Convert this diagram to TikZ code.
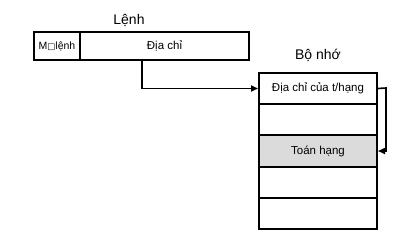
\documentclass[tikz,border=0pt]{standalone}
\usepackage{fontspec}
\setmainfont{Liberation Sans}
\newfontfamily\symfont{DejaVu Sans}
\usetikzlibrary{arrows.meta}
\begin{document}
\begin{tikzpicture}[x=1pt,y=-1pt,
  cell/.style={draw,line width=2pt,inner sep=0pt,anchor=north west},
  lbl/.style={font=\fontsize{14}{16}\selectfont,inner sep=0pt},
  txt/.style={font=\fontsize{11.5}{13}\selectfont},
  conn/.style={line width=1.6pt,-{Triangle[length=7pt,width=6pt]}}]
\useasboundingbox (0,0) rectangle (414,241);
% instruction
\node[lbl] (lenh) at (129,20) {Lệnh};
\node[cell,minimum width=46pt,minimum height=28pt,font=\fontsize{10.5}{12}\selectfont] (op) at (33,31) {M{\symfont\fontsize{8.5}{10}\selectfont □}lệnh};
\node[cell,minimum width=169pt,minimum height=28pt,txt] (addr) at (79,31) {Địa chỉ};
% memory
\node[lbl] (mem) at (318,55) {Bộ nhớ};
\node[cell,minimum width=118pt,minimum height=31pt,txt] (m1) at (258,72) {Địa chỉ của t/hạng};
\node[cell,minimum width=118pt,minimum height=31pt] (m2) at (258,103) {};
\node[cell,minimum width=118pt,minimum height=32pt,fill=black!14,txt] (m3) at (258,134) {Toán hạng};
\node[cell,minimum width=118pt,minimum height=31pt] (m4) at (258,166) {};
\node[cell,minimum width=118pt,minimum height=31pt] (m5) at (258,197) {};
% connectors
\coordinate (a0) at (142,59);
\draw[conn] (a0) |- (m1.west);
\coordinate (b1) at (386,88);
\draw[conn] (m1.east) -- (b1) |- (m3.east);
\end{tikzpicture}
\end{document}
